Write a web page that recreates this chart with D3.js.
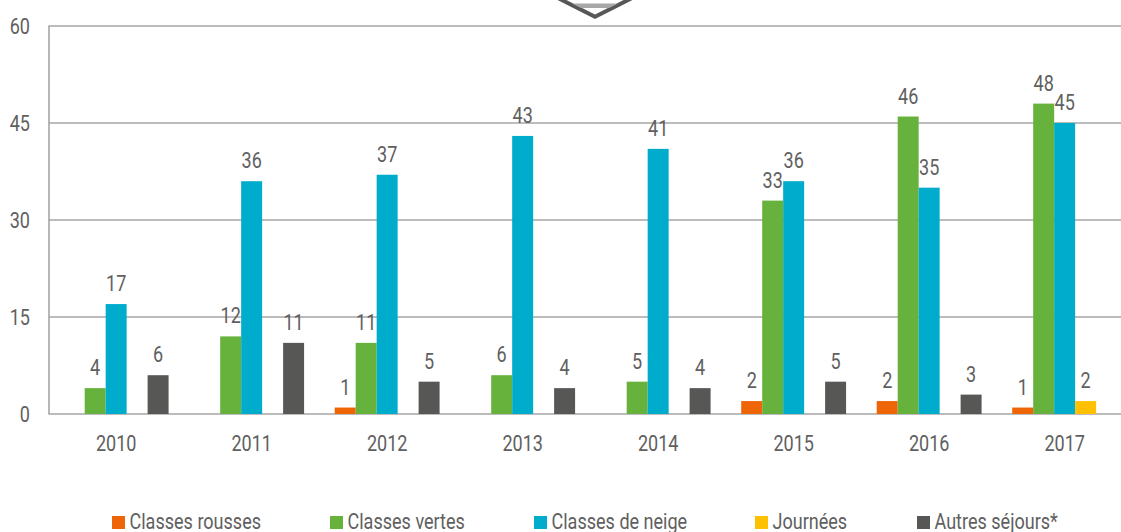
<!DOCTYPE html>
<html><head><meta charset="utf-8">
<script src="https://cdn.jsdelivr.net/npm/d3@7"></script>
<style>html,body{margin:0;padding:0;background:#fff;overflow:hidden}svg{display:block}text{font-family:Roboto,sans-serif;fill:#606060}</style>
</head><body><svg id="c" width="1121" height="532"></svg>
<script>
const years=[2010,2011,2012,2013,2014,2015,2016,2017];
const seriesNames=["Classes rousses","Classes vertes","Classes de neige","Journées","Autres séjours*"];
const colors=["#ee6508","#67b23d","#00accb","#ffc000","#575756"];
const rousses=[0,0,1,0,0,2,2,1];
const vertes=[4,12,11,6,5,33,46,48];
const neige=[17,36,37,43,41,36,35,45];
const journees=[0,0,0,0,0,0,0,2];
const autres=[6,11,5,4,4,5,3,0];
const yTicks=[0,15,30,45,60];
const legendX=[112,330,534,755,917];
const allSeries=[rousses,vertes,neige,journees,autres];
const svg=d3.select("#c");
const x=d3.scaleBand().domain(years).range([48.4,1132.4]);
const x1=d3.scaleBand().domain(d3.range(5)).range([0,x.bandwidth()]).paddingOuter(0.73);
const y=d3.scaleLinear().domain([0,60]).range([414,26]);
function label(g,tx,ty,str,anchor,px){
  g.append("text").attr("transform",`translate(${tx},${ty}) scale(0.82,1)`).attr("text-anchor",anchor).style("font-size",px+"px").text(str);
}
svg.append("g").selectAll("line").data(yTicks).join("line")
  .attr("x1",48.5).attr("x2",1121).attr("y1",d=>y(d)).attr("y2",d=>y(d))
  .attr("stroke","#a6a6a6").attr("stroke-width",1.6);
svg.append("line").attr("x1",49).attr("x2",49).attr("y1",y(60)).attr("y2",y(0)).attr("stroke","#a6a6a6").attr("stroke-width",1.6);
const gy=svg.append("g");
yTicks.forEach(t=>label(gy,30,y(t)+7.5,t,"end",22));
const gx=svg.append("g");
years.forEach(yr=>label(gx,x(yr)+x.bandwidth()/2,451,yr,"middle",22));
allSeries.forEach((vals,si)=>{
  const g=svg.append("g");
  g.selectAll("rect").data(vals.map((v,i)=>({v,i})).filter(d=>d.v>0)).join("rect")
    .attr("x",d=>x(years[d.i])+x1(si)).attr("width",x1.bandwidth())
    .attr("y",d=>y(d.v)).attr("height",d=>y(0)-y(d.v)).attr("fill",colors[si]);
  vals.forEach((v,i)=>{ if(v>0) label(g,x(years[i])+x1(si)+x1.bandwidth()/2,y(v)-13,v,"middle",22); });
});
seriesNames.forEach((n,i)=>{
  svg.append("rect").attr("x",legendX[i]).attr("y",516).attr("width",13).attr("height",13).attr("fill",colors[i]);
  label(svg,legendX[i]+17.5,529,n,"start",22);
});
svg.append("path").attr("d","M554 -4 L595 16.7 L636 -4").attr("fill","none").attr("stroke","#575756").attr("stroke-width",4);
svg.append("path").attr("d","M572 3.5 L618 3.5 L609 8 L581 8 Z").attr("fill","#a8a8a8");
</script></body></html>
